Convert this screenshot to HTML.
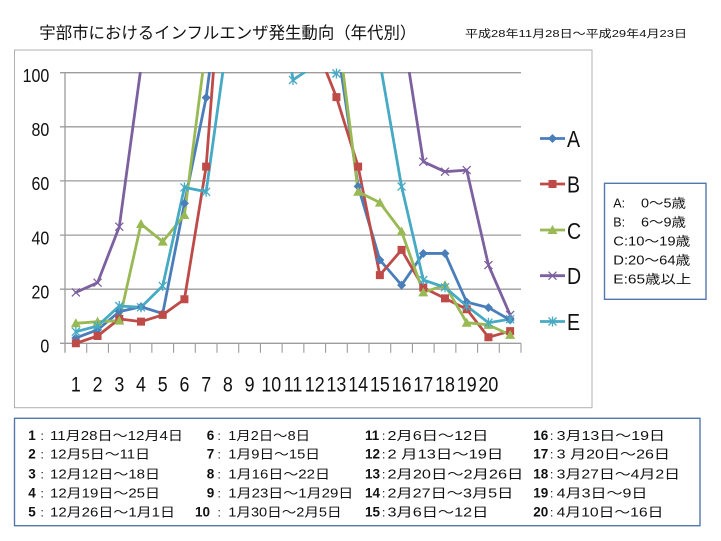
<!DOCTYPE html>
<html><head><meta charset="utf-8"><style>
html,body{margin:0;padding:0;background:#fff;}
svg{display:block;}
text{font-family:"Liberation Sans","Noto Sans CJK JP",sans-serif;fill:#111;}
.jp{font-family:"Liberation Sans","Noto Sans CJK JP",sans-serif;}
</style></head><body>
<svg width="721" height="541" viewBox="0 0 721 541" xmlns="http://www.w3.org/2000/svg">
<rect width="721" height="541" fill="#fff"/>
<defs><clipPath id="pc"><rect x="0" y="72" width="721" height="300"/></clipPath></defs>

<!-- Title -->
<text class="jp" x="39.3" y="38.5" font-size="16.5" textLength="377" lengthAdjust="spacingAndGlyphs">宇部市におけるインフルエンザ発生動向（年代別）</text>
<text class="jp" x="465" y="37" font-size="10.5" textLength="222" lengthAdjust="spacingAndGlyphs">平成28年11月28日～平成29年4月23日</text>

<!-- chart outer box -->
<rect x="14.5" y="50" width="577.5" height="357.7" fill="none" stroke="#b0b0b0" stroke-width="1"/>

<!-- gridlines -->
<g stroke="#9c9c9c" stroke-width="1.3">
<line x1="60" y1="72.7" x2="521" y2="72.7"/>
<line x1="60" y1="126.8" x2="521" y2="126.8"/>
<line x1="60" y1="180.9" x2="521" y2="180.9"/>
<line x1="60" y1="235.1" x2="521" y2="235.1"/>
<line x1="60" y1="289.2" x2="521" y2="289.2"/>
<line x1="60" y1="343.3" x2="521" y2="343.3"/>
<line x1="65" y1="72.7" x2="65" y2="352.7"/>
</g>
<g stroke="#9c9c9c" stroke-width="1.1">
<path d="M86.71,343.3v9.4M108.43,343.3v9.4M130.14,343.3v9.4M151.86,343.3v9.4M173.57,343.3v9.4M195.29,343.3v9.4M217,343.3v9.4M238.71,343.3v9.4M260.43,343.3v9.4M282.14,343.3v9.4M303.86,343.3v9.4M325.57,343.3v9.4M347.29,343.3v9.4M369,343.3v9.4M390.71,343.3v9.4M412.43,343.3v9.4M434.14,343.3v9.4M455.86,343.3v9.4M477.57,343.3v9.4M499.29,343.3v9.4M521,343.3v9.4"/>
</g>

<!-- y labels -->
<g font-size="18.8" text-anchor="end">
<text transform="translate(49.3,81.9) scale(0.85,1)">100</text>
<text transform="translate(49.3,136) scale(0.85,1)">80</text>
<text transform="translate(49.3,190.1) scale(0.85,1)">60</text>
<text transform="translate(49.3,244.3) scale(0.85,1)">40</text>
<text transform="translate(49.3,298.4) scale(0.85,1)">20</text>
<text transform="translate(49.3,352.5) scale(0.85,1)">0</text>
</g>

<!-- x labels -->
<g font-size="21" text-anchor="middle">
<text transform="translate(75.86,391.7) scale(0.85,1)">1</text>
<text transform="translate(97.57,391.7) scale(0.85,1)">2</text>
<text transform="translate(119.29,391.7) scale(0.85,1)">3</text>
<text transform="translate(141,391.7) scale(0.85,1)">4</text>
<text transform="translate(162.71,391.7) scale(0.85,1)">5</text>
<text transform="translate(184.43,391.7) scale(0.85,1)">6</text>
<text transform="translate(206.14,391.7) scale(0.85,1)">7</text>
<text transform="translate(227.86,391.7) scale(0.85,1)">8</text>
<text transform="translate(249.57,391.7) scale(0.85,1)">9</text>
<text transform="translate(271.29,391.7) scale(0.85,1)">10</text>
<text transform="translate(293,391.7) scale(0.85,1)">11</text>
<text transform="translate(314.71,391.7) scale(0.85,1)">12</text>
<text transform="translate(336.43,391.7) scale(0.85,1)">13</text>
<text transform="translate(358.14,391.7) scale(0.85,1)">14</text>
<text transform="translate(379.86,391.7) scale(0.85,1)">15</text>
<text transform="translate(401.57,391.7) scale(0.85,1)">16</text>
<text transform="translate(423.29,391.7) scale(0.85,1)">17</text>
<text transform="translate(445,391.7) scale(0.85,1)">18</text>
<text transform="translate(466.71,391.7) scale(0.85,1)">19</text>
<text transform="translate(488.43,391.7) scale(0.85,1)">20</text>
</g>

<!-- series lines -->
<g clip-path="url(#pc)" fill="none" stroke-width="2.8" stroke-linejoin="round" stroke-linecap="round">
<polyline stroke="#4a7ebb" points="75.86,337.89 97.57,329.77 119.29,311.64 141,306.77 162.71,313.53 184.43,203.4 206.14,97.6 227.86,-68 249.57,-468.5 271.29,-468.5 293,-468.5 314.71,-468.5 336.43,40.2 358.14,186.4 379.86,259.96 401.57,285.12 423.29,253.46 445,253.46 466.71,302.17 488.43,307.58 510.14,320.03"/>
<polyline stroke="#be4b48" points="75.86,343.3 97.57,336 119.29,318.9 141,321.65 162.71,314.9 184.43,299.2 206.14,166.6 227.86,-116.7 249.57,-468.5 271.29,-468.5 293,-468.5 314.71,42.9 336.43,97.1 358.14,166.6 379.86,275.1 401.57,249.9 423.29,287.6 445,298.4 466.71,309.2 488.43,337.3 510.14,331.1"/>
<polyline stroke="#98b954" points="75.86,323.3 97.57,321.7 119.29,320.6 141,224 162.71,241.6 184.43,215 206.14,45.6 227.86,-468.5 249.57,-468.5 271.29,-468.5 293,-468.5 314.71,-468.5 336.43,18.6 358.14,191.8 379.86,202.6 401.57,231.5 423.29,292.4 445,285.1 466.71,322.7 488.43,324.9 510.14,334.9"/>
<polyline stroke="#7d60a0" points="75.86,292.4 97.57,282.7 119.29,226.7 141,67.3 162.71,-468.5 184.43,-468.5 206.14,-468.5 227.86,-468.5 249.57,-468.5 271.29,-468.5 293,-468.5 314.71,-468.5 336.43,-468.5 358.14,-468.5 379.86,-468.5 401.57,22.9 423.29,161.7 445,171.7 466.71,170.1 488.43,265.1 510.14,314.9"/>
<polyline stroke="#46aac5" points="75.86,331.7 97.57,326 119.29,306 141,307.3 162.71,285.9 184.43,187.4 206.14,191.8 227.86,36 249.57,-468.5 271.29,-62.6 293,80 314.71,65.4 336.43,73.5 358.14,-62.6 379.86,61.9 401.57,186.6 423.29,280 445,287.3 466.71,306 488.43,322.7 510.14,319.2"/>
</g>

<!-- markers -->
<path fill="#4a7ebb" d="M75.86,333.39l4.5,4.5l-4.5,4.5l-4.5,-4.5z M97.57,325.27l4.5,4.5l-4.5,4.5l-4.5,-4.5z M119.29,307.14l4.5,4.5l-4.5,4.5l-4.5,-4.5z M141,302.27l4.5,4.5l-4.5,4.5l-4.5,-4.5z M162.71,309.03l4.5,4.5l-4.5,4.5l-4.5,-4.5z M184.43,198.9l4.5,4.5l-4.5,4.5l-4.5,-4.5z M206.14,93.1l4.5,4.5l-4.5,4.5l-4.5,-4.5z M358.14,181.9l4.5,4.5l-4.5,4.5l-4.5,-4.5z M379.86,255.46l4.5,4.5l-4.5,4.5l-4.5,-4.5z M401.57,280.62l4.5,4.5l-4.5,4.5l-4.5,-4.5z M423.29,248.96l4.5,4.5l-4.5,4.5l-4.5,-4.5z M445,248.96l4.5,4.5l-4.5,4.5l-4.5,-4.5z M466.71,297.67l4.5,4.5l-4.5,4.5l-4.5,-4.5z M488.43,303.08l4.5,4.5l-4.5,4.5l-4.5,-4.5z M510.14,315.53l4.5,4.5l-4.5,4.5l-4.5,-4.5z"/>
<path fill="#be4b48" d="M71.86,339.3h8v8h-8z M93.57,332h8v8h-8z M115.29,314.9h8v8h-8z M137,317.65h8v8h-8z M158.71,310.9h8v8h-8z M180.43,295.2h8v8h-8z M202.14,162.6h8v8h-8z M332.43,93.1h8v8h-8z M354.14,162.6h8v8h-8z M375.86,271.1h8v8h-8z M397.57,245.9h8v8h-8z M419.29,283.6h8v8h-8z M441,294.4h8v8h-8z M462.71,305.2h8v8h-8z M484.43,333.3h8v8h-8z M506.14,327.1h8v8h-8z"/>
<path fill="#98b954" d="M75.86,318.3l5,9h-10z M97.57,316.7l5,9h-10z M119.29,315.6l5,9h-10z M141,219l5,9h-10z M162.71,236.6l5,9h-10z M184.43,210l5,9h-10z M358.14,186.8l5,9h-10z M379.86,197.6l5,9h-10z M401.57,226.5l5,9h-10z M423.29,287.4l5,9h-10z M445,280.1l5,9h-10z M466.71,317.7l5,9h-10z M488.43,319.9l5,9h-10z M510.14,329.9l5,9h-10z"/>
<path fill="none" stroke="#7d60a0" stroke-width="1.3" d="M71.86,288.4l8,8m0,-8l-8,8 M93.57,278.7l8,8m0,-8l-8,8 M115.29,222.7l8,8m0,-8l-8,8 M419.29,157.7l8,8m0,-8l-8,8 M441,167.7l8,8m0,-8l-8,8 M462.71,166.1l8,8m0,-8l-8,8 M484.43,261.1l8,8m0,-8l-8,8 M506.14,310.9l8,8m0,-8l-8,8"/>
<path fill="none" stroke="#46aac5" stroke-width="1.3" d="M71.86,327.7l8,8m0,-8l-8,8m4,-9v10 M93.57,322l8,8m0,-8l-8,8m4,-9v10 M115.29,302l8,8m0,-8l-8,8m4,-9v10 M137,303.3l8,8m0,-8l-8,8m4,-9v10 M158.71,281.9l8,8m0,-8l-8,8m4,-9v10 M180.43,183.4l8,8m0,-8l-8,8m4,-9v10 M202.14,187.8l8,8m0,-8l-8,8m4,-9v10 M289,76l8,8m0,-8l-8,8m4,-9v10 M332.43,69.5l8,8m0,-8l-8,8m4,-9v10 M397.57,182.6l8,8m0,-8l-8,8m4,-9v10 M419.29,276l8,8m0,-8l-8,8m4,-9v10 M441,283.3l8,8m0,-8l-8,8m4,-9v10 M462.71,302l8,8m0,-8l-8,8m4,-9v10 M484.43,318.7l8,8m0,-8l-8,8m4,-9v10 M506.14,315.2l8,8m0,-8l-8,8m4,-9v10"/>

<!-- legend (series) -->
<g stroke-width="2.8" fill="none">
<line x1="540" y1="138.5" x2="565" y2="138.5" stroke="#4a7ebb"/>
<line x1="540" y1="184" x2="565" y2="184" stroke="#be4b48"/>
<line x1="540" y1="230" x2="565" y2="230" stroke="#98b954"/>
<line x1="540" y1="275.7" x2="565" y2="275.7" stroke="#7d60a0"/>
<line x1="540" y1="321.5" x2="565" y2="321.5" stroke="#46aac5"/>
</g>
<path fill="#4a7ebb" d="M552.5,134l4.5,4.5l-4.5,4.5l-4.5,-4.5z"/>
<path fill="#be4b48" d="M548.5,180h8v8h-8z"/>
<path fill="#98b954" d="M552.5,225l5,9h-10z"/>
<path fill="none" stroke="#7d60a0" stroke-width="1.3" d="M548.5,271.7l8,8m0,-8l-8,8"/>
<path fill="none" stroke="#46aac5" stroke-width="1.3" d="M548.5,317.5l8,8m0,-8l-8,8m4,-9v10"/>
<g font-size="23">
<text transform="translate(567,146.8) scale(0.85,1)">A</text>
<text transform="translate(567,192.3) scale(0.85,1)">B</text>
<text transform="translate(567,238.8) scale(0.85,1)">C</text>
<text transform="translate(567,284) scale(0.85,1)">D</text>
<text transform="translate(567,329.8) scale(0.85,1)">E</text>
</g>

<!-- age legend box -->
<rect x="604.5" y="183.3" width="101.5" height="116" fill="#fff" stroke="#5477ad" stroke-width="1.4"/>
<g class="jp" font-size="12.5">
<text x="613.3" y="207.5">A:</text><text x="641" y="207.5" textLength="45" lengthAdjust="spacingAndGlyphs">0～5歳</text>
<text x="613.3" y="226.5">B:</text><text x="641" y="226.5" textLength="45" lengthAdjust="spacingAndGlyphs">6～9歳</text>
<text x="613.3" y="245.5" textLength="77" lengthAdjust="spacingAndGlyphs">C:10～19歳</text>
<text x="613.3" y="264.5" textLength="77" lengthAdjust="spacingAndGlyphs">D:20～64歳</text>
<text x="613.3" y="283.5" textLength="78" lengthAdjust="spacingAndGlyphs">E:65歳以上</text>
</g>

<!-- bottom table -->
<rect x="14.5" y="418.3" width="685.5" height="107.4" fill="#fff" stroke="#5477ad" stroke-width="1.4"/>
<g font-size="13.5" font-weight="bold">
<text x="28.3" y="440">1</text><text x="28.3" y="458.3">2</text><text x="28.3" y="478.3">3</text><text x="28.3" y="497.3">4</text><text x="28.3" y="516.7">5</text>
<text x="206.7" y="440">6</text><text x="206.7" y="458.3">7</text><text x="206.7" y="478.3">8</text><text x="206.7" y="497.3">9</text><text x="195" y="516.7">10</text>
<text x="365" y="440">11</text><text x="365" y="458.3">12</text><text x="365" y="478.3">13</text><text x="365" y="497.3">14</text><text x="365" y="516.7">15</text>
<text x="533.3" y="440">16</text><text x="533.3" y="458.3">17</text><text x="533.3" y="478.3">18</text><text x="533.3" y="497.3">19</text><text x="533.3" y="516.7">20</text>
</g>
<g font-size="12">
<text x="40.5" y="440">:</text><text x="40.5" y="458.3">:</text><text x="40.5" y="478.3">:</text><text x="40.5" y="497.3">:</text><text x="40.5" y="516.7">:</text>
<text x="217.5" y="440">:</text><text x="217.5" y="458.3">:</text><text x="217.5" y="478.3">:</text><text x="217.5" y="497.3">:</text><text x="217.5" y="516.7">:</text>
<text x="382" y="440">:</text><text x="382" y="458.3">:</text><text x="382" y="478.3">:</text><text x="382" y="497.3">:</text><text x="382" y="516.7">:</text>
<text x="550" y="440">:</text><text x="550" y="458.3">:</text><text x="550" y="478.3">:</text><text x="550" y="497.3">:</text><text x="550" y="516.7">:</text>
</g>
<g class="jp" font-size="12.5" lengthAdjust="spacingAndGlyphs">
<text x="50" y="440" textLength="133" lengthAdjust="spacingAndGlyphs">11月28日～12月4日</text>
<text x="50" y="458.3" textLength="100" lengthAdjust="spacingAndGlyphs">12月5日～11日</text>
<text x="50" y="478.3" textLength="110" lengthAdjust="spacingAndGlyphs">12月12日～18日</text>
<text x="50" y="497.3" textLength="110" lengthAdjust="spacingAndGlyphs">12月19日～25日</text>
<text x="50" y="516.7" textLength="125" lengthAdjust="spacingAndGlyphs">12月26日～1月1日</text>

<text x="228.3" y="440" textLength="81.7" lengthAdjust="spacingAndGlyphs">1月2日～8日</text>
<text x="228.3" y="458.3" textLength="91.7" lengthAdjust="spacingAndGlyphs">1月9日～15日</text>
<text x="228.3" y="478.3" textLength="101.7" lengthAdjust="spacingAndGlyphs">1月16日～22日</text>
<text x="228.3" y="497.3" textLength="125" lengthAdjust="spacingAndGlyphs">1月23日～1月29日</text>
<text x="228.3" y="516.7" textLength="113.3" lengthAdjust="spacingAndGlyphs">1月30日～2月5日</text>

<text x="387.5" y="440" textLength="100.8" lengthAdjust="spacingAndGlyphs">2月6日～12日</text>
<text x="387.5" y="458.3" textLength="115.8" lengthAdjust="spacingAndGlyphs">2 月13日～19日</text>
<text x="387.5" y="478.3" textLength="135.8" lengthAdjust="spacingAndGlyphs">2月20日～2月26日</text>
<text x="387.5" y="497.3" textLength="125.8" lengthAdjust="spacingAndGlyphs">2月27日～3月5日</text>
<text x="387.5" y="516.7" textLength="100.8" lengthAdjust="spacingAndGlyphs">3月6日～12日</text>

<text x="556.7" y="440" textLength="108.3" lengthAdjust="spacingAndGlyphs">3月13日～19日</text>
<text x="556.7" y="458.3" textLength="113.3" lengthAdjust="spacingAndGlyphs">3 月20日～26日</text>
<text x="556.7" y="478.3" textLength="123.3" lengthAdjust="spacingAndGlyphs">3月27日～4月2日</text>
<text x="556.7" y="497.3" textLength="90.7" lengthAdjust="spacingAndGlyphs">4月3日～9日</text>
<text x="556.7" y="516.7" textLength="106.7" lengthAdjust="spacingAndGlyphs">4月10日～16日</text>
</g>
</svg>
</body></html>
